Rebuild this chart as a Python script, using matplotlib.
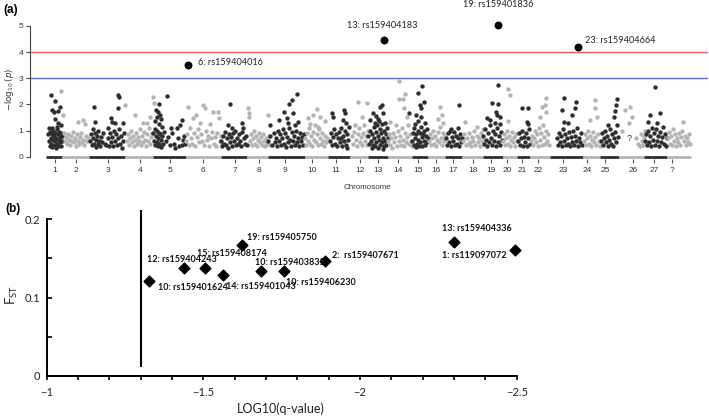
import matplotlib
matplotlib.use("Agg")
import matplotlib.pyplot as plt
from matplotlib.ticker import MultipleLocator, FixedLocator

# ---------------- Panel (a): Manhattan plot data ----------------
# cumulative genomic position (arbitrary units) and -log10(p)
chrom_labels = ["1", "2", "3", "4", "5", "6", "7", "8", "9", "10", "11", "12", "13", "14",
                "15", "16", "17", "18", "19", "20", "21", "22", "23", "24", "25", "26", "27", "?"]
chrom_centers = [55, 76, 108, 140, 170, 203, 235, 259, 285, 312, 336, 360, 378, 398,
                 418, 436, 453, 473, 491, 507, 522, 538, 563, 587, 605, 633, 654, 672]
chrom_start = [46, 62, 89, 125, 153, 186, 221, 247, 268, 305, 328, 350, 368, 388,
               412, 428, 445, 462, 483, 503, 517, 530, 550, 583, 600, 619, 644, 667]
chrom_end = [62, 89, 125, 153, 186, 221, 247, 268, 305, 328, 350, 368, 388, 412,
             428, 445, 462, 483, 503, 517, 530, 550, 583, 600, 619, 644, 667, 691]

chr01 = [(51, 2.36), (55, 2.14), (51.5, 1.79), (54, 1.72), (58, 1.73), (60, 1.91), (58, 1.28), (55, 1.45),
         (49, 1.1), (61, 1.2), (48, 0.85), (49, 0.6), (49.5, 0.4), (50, 0.95), (50.5, 0.7), (51, 0.5),
         (51.5, 0.85), (52, 0.38), (52.5, 0.65), (53, 1.0), (53.5, 0.8), (54, 0.45), (54.5, 0.6), (55, 0.9),
         (55.5, 0.35), (56, 0.7), (56.5, 1.05), (57, 0.5), (57.5, 0.85), (58, 0.4), (58.5, 0.65), (59, 0.95),
         (59.5, 0.55), (60, 0.75), (60.5, 0.42), (61, 0.9), (61.5, 0.6), (62, 0.8), (52, 1.1), (57, 1.12)]
chr02 = [(61, 2.52), (63, 1.6), (78, 1.34), (83, 1.42), (85, 1.25), (64, 0.9), (65, 0.6), (66, 0.75), (67, 0.5),
         (68, 0.85), (69, 0.65), (70, 0.45), (71, 0.8), (72, 0.6), (73, 0.95), (74, 0.55), (75, 0.7), (76, 0.4),
         (77, 0.85), (78, 0.6), (79, 0.5), (80, 0.75), (81, 0.9), (82, 0.55), (83, 0.65), (84, 0.45), (86, 0.8),
         (87, 0.6), (88, 0.7)]
chr03 = [(94, 1.91), (117.5, 2.36), (119, 2.27), (118, 1.85), (111, 1.47), (111.5, 1.34), (115, 1.28), (95, 1.34),
         (123, 1.28), (108, 1.09), (90, 0.6), (91, 0.85), (92, 0.45), (92.5, 1.05), (93, 0.7), (94, 0.5), (95, 0.9),
         (95.5, 0.38), (96, 0.65), (97, 0.8), (97.5, 0.5), (98, 1.0), (99, 0.6), (100, 0.42), (101, 0.75),
         (102, 0.55), (103, 0.9), (105, 0.5), (106, 0.45), (108, 0.7), (109, 0.4), (110, 0.9), (111, 0.55),
         (112, 0.75), (113, 0.4), (114, 1.0), (115, 0.6), (116, 0.85), (117, 0.45), (118, 0.7), (119, 1.05),
         (120, 0.5), (121, 0.8), (122, 0.35), (123, 0.6), (124, 0.9)]
chr04 = [(125, 1.98), (135, 1.6), (143, 1.28), (147, 1.3), (153, 2.29), (153.5, 2.05), (150, 1.5), (127, 0.6),
         (128, 0.85), (129, 0.45), (130, 0.7), (131, 1.0), (132, 0.55), (133, 0.8), (134, 0.4), (135, 0.65),
         (136, 0.9), (137, 0.5), (138, 0.75), (139, 0.6), (140, 1.05), (141, 0.45), (142, 0.8), (143, 0.55),
         (144, 0.95), (145, 0.65), (146, 0.4), (147, 0.85), (148, 0.6), (149, 1.1), (150, 0.5), (151, 0.75),
         (152, 0.9)]
chr05 = [(167, 2.33), (159, 2.0), (156, 1.79), (158, 1.7), (160, 1.6), (157, 1.5), (161, 1.45), (155, 1.35),
         (159, 1.25), (162, 1.15), (181.5, 1.4), (180, 1.21), (176.5, 1.09), (168, 0.77), (183, 0.64), (153, 0.9),
         (154, 0.6), (154.5, 1.05), (155, 0.45), (156, 0.8), (156.5, 0.55), (157, 1.0), (157.5, 0.4), (158, 0.7),
         (158.5, 0.9), (159, 0.5), (160, 0.85), (160.5, 0.38), (161, 0.65), (162, 0.8), (163, 0.5), (164, 0.95),
         (166, 0.6), (170, 0.45), (172, 0.9), (174, 0.5), (175, 0.35), (178, 0.7), (179, 0.4), (182, 0.45),
         (184, 0.8), (185, 0.5), (171, 1.1)]
chr06 = [(188, 1.91), (193, 1.47), (196, 1.6), (203, 1.98), (205, 1.85), (213, 1.72), (218, 1.72), (219, 1.47),
         (200, 1.3), (210, 1.25), (186, 0.6), (187, 0.85), (189, 0.45), (190, 1.1), (191, 0.7), (192, 0.5),
         (194, 0.9), (195, 0.4), (197, 0.75), (198, 1.05), (199, 0.55), (201, 0.85), (202, 0.6), (204, 0.45),
         (206, 1.0), (207, 0.65), (208, 0.8), (209, 0.4), (211, 0.7), (212, 0.95), (214, 0.5), (215, 0.75),
         (216, 0.4), (217, 0.9), (220, 0.6), (221, 0.8), (222, 0.5)]
chr07 = [(230, 2.0), (228, 1.21), (231.5, 1.09), (241.5, 1.28), (243, 1.09), (221, 0.6), (222, 0.4), (223, 0.8),
         (224, 0.5), (225, 0.95), (226, 0.45), (227, 0.7), (228, 0.35), (229, 0.85), (230, 0.55), (231, 0.75),
         (232, 0.4), (233, 0.9), (234, 0.6), (235, 1.0), (236, 0.45), (237, 0.7), (238, 0.5), (239, 0.85),
         (240, 0.6), (241, 0.4), (242, 0.95), (244, 0.7), (245, 0.5), (246, 0.8), (247, 0.45)]
chr08 = [(248, 1.85), (248.5, 1.67), (249, 1.5), (268, 1.6), (250, 0.6), (251, 0.85), (252, 0.45), (253, 0.7),
         (254, 1.0), (255, 0.5), (256, 0.8), (257, 0.4), (258, 0.65), (259, 0.9), (260, 0.55), (261, 0.75),
         (262, 0.45), (263, 0.85), (264, 0.6), (265, 0.4), (266, 0.7), (267, 0.5), (269, 0.8), (270, 0.45)]
chr09 = [(296.5, 2.39), (289, 2.0), (291.5, 2.17), (284, 1.72), (293, 1.66), (286.5, 1.47), (279, 1.4),
         (270, 1.21), (298, 1.34), (288, 1.3), (295, 1.2), (268, 0.6), (270, 0.8), (272, 0.45), (274, 0.9),
         (275, 0.55), (276, 0.7), (277, 0.4), (278, 1.0), (279, 0.6), (280, 0.85), (281, 0.45), (282, 0.7),
         (283, 1.05), (284, 0.5), (285, 0.9), (286, 0.38), (287, 0.75), (288, 0.55), (289, 1.1), (290, 0.65),
         (291, 0.42), (292, 0.95), (293, 0.6), (294, 0.8), (295, 0.45), (296, 1.0), (297, 0.55), (298, 0.7),
         (299, 0.4), (300, 0.9), (301, 0.6), (302, 0.75), (303, 0.45), (304, 0.85)]
chr10 = [(316.5, 1.81), (313, 1.6), (308, 1.47), (320, 1.5), (325, 1.35), (305, 0.7), (306, 0.45), (307, 0.9),
         (308, 0.6), (309, 1.1), (310, 0.5), (311, 0.8), (312, 0.4), (313, 0.95), (314, 0.65), (315, 1.2),
         (316, 0.55), (317, 0.85), (318, 0.45), (319, 1.05), (320, 0.7), (321, 0.5), (322, 0.9), (323, 0.6),
         (324, 0.4), (325, 0.8), (326, 0.55), (327, 0.7), (310, 1.25), (318, 1.15)]
chr11 = [(332, 1.66), (333, 1.53), (344, 1.79), (344.5, 1.66), (343, 1.4), (346, 1.3), (330, 0.6), (331, 0.9),
         (332, 0.45), (333, 0.75), (334, 1.05), (335, 0.5), (336, 0.85), (337, 0.4), (338, 0.7), (339, 0.95),
         (340, 0.55), (341, 1.1), (342, 0.4), (343, 0.8), (344, 0.6), (345, 1.0), (346, 0.45), (347, 0.85),
         (348, 0.65), (349, 1.15), (341, 0.7), (347, 0.35)]
chr12 = [(358, 2.1), (366.5, 2.04), (362, 1.5), (355, 1.2), (352, 0.8), (353, 0.5), (354, 0.95), (356, 0.65),
         (357, 0.4), (358, 0.85), (359, 1.1), (360, 0.55), (361, 0.75), (362, 0.45), (363, 0.9), (364, 1.2),
         (365, 0.6), (366, 0.8), (367, 0.45), (368, 1.0)]
chr13 = [(381.5, 1.98), (380, 1.91), (373, 1.66), (383, 1.66), (376, 1.55), (378, 1.45), (370, 1.4), (385, 1.3),
         (368, 0.8), (369, 0.5), (370, 1.0), (371, 0.6), (371.5, 0.35), (372, 0.85), (373, 0.45), (373.5, 1.15),
         (374, 0.7), (375, 0.4), (375.5, 0.95), (376, 0.55), (377, 1.2), (377.5, 0.8), (378, 0.35), (379, 0.65),
         (379.5, 1.05), (380, 0.45), (381, 0.9), (381.5, 0.55), (382, 1.25), (383, 0.7), (383.5, 0.4), (384, 1.0),
         (385, 0.6), (385.5, 0.85), (386, 0.45), (387, 1.1), (387.5, 0.7), (374.5, 1.3), (379, 1.35), (382.5, 0.3)]
chr14 = [(399, 2.91), (405, 2.4), (399, 2.2), (402.5, 2.2), (404, 1.85), (390, 1.34), (407, 1.5), (396, 1.2),
         (388, 0.6), (389, 0.85), (390, 0.45), (391, 0.7), (392, 0.35), (393, 0.9), (394, 0.55), (395, 0.75),
         (397, 0.4), (398, 1.0), (399, 0.6), (400, 0.8), (401, 0.45), (402, 1.1), (403, 0.65), (404, 0.4),
         (405, 0.9), (406, 0.55), (407, 0.75), (408, 1.2), (409, 0.5), (410, 0.85), (411, 0.6), (412, 0.4)]
chr15 = [(422, 2.7), (417.5, 2.42), (424, 2.1), (420, 1.98), (420.5, 1.85), (409, 1.66), (416, 1.6), (421, 1.5),
         (418, 1.35), (425, 1.3), (412, 0.6), (413, 0.9), (413.5, 0.45), (414, 1.1), (415, 0.7), (415.5, 0.38),
         (416, 0.85), (417, 0.5), (417.5, 1.0), (418, 0.65), (419, 0.4), (419.5, 0.9), (420, 0.55), (421, 1.15),
         (421.5, 0.75), (422, 0.4), (423, 0.85), (423.5, 0.6), (424, 1.0), (425, 0.45), (426, 0.8), (427, 0.55),
         (428, 0.7), (414.5, 1.25), (426.5, 1.05)]
chr16 = [(440, 1.91), (441.5, 1.6), (438, 1.45), (443, 1.3), (429, 0.6), (430, 0.85), (431, 0.45), (432, 0.7),
         (433, 1.0), (434, 0.5), (435, 0.8), (436, 0.4), (437, 0.65), (438, 0.95), (439, 0.55), (440, 1.15),
         (441, 0.7), (442, 0.45), (443, 0.9), (444, 0.6), (445, 0.8)]
chr17 = [(459, 1.98), (458, 1.09), (446, 0.7), (447, 0.45), (448, 0.9), (449, 0.55), (450, 1.0), (451, 0.4),
         (452, 0.75), (453, 0.6), (454, 0.95), (455, 0.45), (456, 0.8), (457, 0.5), (458, 0.7), (459, 0.4),
         (460, 0.85), (461, 0.55), (462, 0.7), (451, 1.05)]
chr18 = [(465, 1.34), (476.5, 1.15), (463, 0.6), (464, 0.85), (466, 0.45), (467, 0.7), (468, 0.5), (469, 0.9),
         (470, 0.55), (471, 0.4), (472, 0.75), (473, 0.6), (474, 1.0), (475, 0.45), (477, 0.8), (478, 0.55),
         (479, 0.7), (480, 0.4), (481, 0.9), (482, 0.6), (483, 1.05)]
chr19 = [(498, 2.74), (492, 2.07), (498, 2.0), (496, 1.7), (486.5, 1.47), (497, 1.6), (490, 1.4), (500, 1.5),
         (483, 0.8), (484, 0.5), (485, 1.05), (486, 0.65), (487, 0.4), (488, 0.9), (489, 0.55), (490, 1.2),
         (491, 0.7), (492, 0.45), (493, 1.0), (494, 0.6), (495, 0.85), (496, 0.4), (497, 1.1), (498, 0.55),
         (499, 0.8), (500, 0.45), (501, 0.95), (502, 0.65), (494.5, 1.3), (499.5, 1.25)]
chr20 = [(508, 2.58), (510, 2.36), (507.5, 1.37), (503, 0.6), (504, 0.85), (505, 0.45), (506, 0.7), (507, 1.0),
         (508, 0.5), (509, 0.8), (510, 0.4), (511, 0.65), (512, 0.95), (513, 0.55), (514, 0.75), (515, 0.4),
         (516, 0.85), (517, 0.6)]
chr21 = [(522, 1.85), (527.5, 1.85), (526.5, 1.34), (528, 1.25), (518, 0.6), (519, 0.9), (520, 0.45), (521, 0.7),
         (522, 1.0), (523, 0.4), (524, 0.75), (525, 0.55), (526, 0.9), (527, 0.4), (528, 0.7), (529, 1.05),
         (530, 0.5)]
chr22 = [(545.5, 2.26), (545, 1.98), (542, 1.9), (546, 1.7), (540, 1.5), (531, 0.6), (532, 0.8), (533, 0.45),
         (534, 0.7), (535, 1.0), (536, 0.55), (537, 0.85), (538, 0.4), (539, 1.1), (540, 0.65), (541, 0.9),
         (542, 0.45), (543, 1.2), (544, 0.75), (545, 0.5), (546, 1.0), (547, 0.6), (548, 0.85), (549, 0.45)]
chr23 = [(564, 2.23), (562, 1.79), (575.5, 2.1), (575, 1.85), (572, 1.6), (564, 1.34), (568, 1.3), (557, 0.7),
         (558, 0.45), (559, 0.9), (560, 0.55), (561, 0.8), (562, 0.4), (563, 1.05), (564, 0.6), (565, 0.85),
         (566, 0.45), (567, 0.7), (568, 0.5), (569, 0.95), (570, 0.4), (571, 0.75), (572, 0.55), (573, 1.0),
         (574, 0.45), (575, 0.8), (576, 0.6), (577, 1.1), (578, 0.4), (579, 0.7), (580, 0.55), (581, 0.9),
         (582, 0.45)]
chr24 = [(595, 2.17), (594.5, 1.85), (590, 1.4), (597, 1.5), (584, 0.6), (585, 0.85), (586, 0.45), (587, 0.7),
         (588, 1.0), (589, 0.5), (590, 0.8), (591, 0.4), (592, 0.65), (593, 0.95), (594, 0.55), (595, 0.75),
         (596, 0.45), (598, 0.85), (599, 0.6), (600, 0.4)]
chr25 = [(616.5, 2.19), (615.5, 1.98), (615, 1.75), (614, 1.5), (608, 1.21), (601, 0.6), (602, 0.9), (603, 0.45),
         (604, 0.7), (605, 1.0), (606, 0.55), (607, 0.8), (608, 0.4), (609, 0.65), (610, 1.05), (611, 0.5),
         (612, 0.85), (613, 0.4), (614, 0.7), (615, 0.95), (616, 0.55), (617, 1.2), (618, 0.75)]
chr26 = [(625, 1.79), (630, 1.91), (631.5, 1.53), (629, 1.3), (622, 1.0), (636, 0.7), (638, 0.5), (641, 0.85),
         (642, 0.6), (643, 0.45), (644, 0.75), (645, 1.0), (646, 0.55), (647, 0.9), (640, 0.4)]
chr27 = [(655, 2.65), (650, 1.6), (660, 1.66), (648, 1.34), (657, 1.3), (645, 0.6), (646, 0.85), (647, 0.45),
         (648, 1.0), (649, 0.55), (650, 0.8), (651, 0.4), (652, 1.1), (653, 0.65), (654, 0.9), (655, 0.45),
         (656, 1.05), (657, 0.6), (658, 0.8), (659, 0.4), (660, 0.95), (661, 0.55), (662, 0.75), (663, 1.15),
         (664, 0.5), (665, 0.85), (666, 0.4), (667, 0.7)]
chrUn = [(683, 1.34), (668, 0.7), (669, 0.95), (670, 0.5), (671, 0.8), (672, 0.45), (673, 1.05), (674, 0.6),
         (675, 0.85), (676, 0.4), (677, 0.7), (678, 0.55), (679, 0.9), (680, 0.45), (681, 0.75), (682, 1.0),
         (684, 0.6), (685, 0.8), (686, 0.45), (687, 0.7), (688, 0.55), (689, 0.85), (690, 0.5)]
snps_by_chrom = [chr01, chr02, chr03, chr04, chr05, chr06, chr07, chr08, chr09, chr10, chr11, chr12, chr13,
                 chr14, chr15, chr16, chr17, chr18, chr19, chr20, chr21, chr22, chr23, chr24, chr25, chr26,
                 chr27, chrUn]

top_hits_pos = [188.3, 384.3, 498, 578]
top_hits_logp = [3.5, 4.48, 5.04, 4.2]
top_hits_labels = ["6: rs159404016", "13: rs159404183", "19: rs159401836", "23: rs159404664"]
sig_threshold = 4
sugg_threshold = 3

# ---------------- Panel (b): FST vs log10(q) ----------------
fst_log10q = [-1.328, -1.438, -1.504, -1.564, -1.623, -1.683, -1.756, -1.888, -2.30, -2.495]
fst_values = [0.121, 0.137, 0.138, 0.129, 0.167, 0.134, 0.134, 0.1465, 0.171, 0.1605]
fst_labels = ["10: rs159401624", "12: rs159404243", "15: rs159408174", "14: rs159401043",
              "19: rs159405750", "10: rs159403835", "10: rs159406230", "2:  rs159407671",
              "13: rs159404336", "1: rs119097072"]
q_threshold = -1.301  # log10(0.05)

# ---------------- Figure ----------------
W, H = 709, 416
fig = plt.figure(figsize=(W / 100, H / 100), dpi=100)

def fx(px):
    return px / W

def fy(py):
    return 1 - py / H

DARK = "#2e2e2e"
LIGHT = "#b4b4b4"

# Panel (a)
y0px, upx = 156.7, 26.14
ax_bot_px = 158.5
axa = fig.add_axes([fx(30), fy(ax_bot_px), fx(708) - fx(30), ax_bot_px / H])
axa.set_xlim(30, 708)
axa.set_ylim(-(ax_bot_px - y0px) / upx, y0px / upx)

for i, pts in enumerate(snps_by_chrom):
    col = DARK if i % 2 == 0 else LIGHT
    xs = [p[0] for p in pts]
    ys = [p[1] for p in pts]
    axa.scatter(xs, ys, s=10, color=col, linewidths=0, zorder=2)
    axa.hlines(0, chrom_start[i], chrom_end[i], color=col, lw=2.0, zorder=1)

axa.axhline(sig_threshold, color="#e06060", lw=1.0, zorder=1)
axa.axhline(sugg_threshold, color="#5a6ad8", lw=1.0, zorder=1)

axa.scatter(top_hits_pos, top_hits_logp, s=22, color="black", zorder=3, clip_on=False)
offsets_a = [(10, 2.7, "left"), (-2, 13.6, "center"), (0.5, 20.7, "center"), (7.3, 6, "left")]
for x, y, lab, (dx, dy, ha) in zip(top_hits_pos, top_hits_logp, top_hits_labels, offsets_a):
    axa.annotate(lab, (x, y), xytext=(dx, dy), textcoords="offset pixels", ha=ha, va="center",
                 fontsize=6.6, family="Lato", color="#222222", annotation_clip=False)

axa.text(629, 0.70, "?", fontsize=6.5, family="Liberation Sans", color="#333333", ha="center", va="center")

for s in ["top", "right", "bottom"]:
    axa.spines[s].set_visible(False)
axa.spines["left"].set_bounds(0, 5)
axa.spines["left"].set_color("#444444")
axa.spines["left"].set_linewidth(0.8)
axa.set_yticks([0, 1, 2, 3, 4, 5])
axa.set_xticks(chrom_centers)
axa.set_xticklabels(chrom_labels)
axa.tick_params(axis="y", length=3, width=0.8, color="#444444", labelsize=6, labelcolor="#333333", pad=2)
axa.tick_params(axis="x", length=3, width=0.8, color="#555555", labelsize=6, labelcolor="#333333", pad=3)
for t in axa.get_xticklabels() + axa.get_yticklabels():
    t.set_family("Liberation Sans")

fig.text(fx(368), fy(187), "Chromosome", fontsize=5.8, family="Liberation Sans", color="#333333",
         ha="center", va="center")
fig.text(fx(10), fy(89), r"$-\log_{10}(p)$", fontsize=6.2, color="#333333", rotation=90,
         ha="center", va="center")
fig.text(fx(11), fy(9.5), "(a)", fontsize=8.5, fontweight="bold", family="Liberation Sans",
         ha="center", va="center")
fig.text(fx(13), fy(209), "(b)", fontsize=8.5, fontweight="bold", family="Liberation Sans",
         ha="center", va="center")

# Panel (b)
axb = fig.add_axes([fx(46.7), fy(376), fx(516.7) - fx(46.7), (376 - 219) / H])
axb.set_xlim(-1, -2.5)
axb.set_ylim(0, 0.2)
for s in ["top", "right"]:
    axb.spines[s].set_visible(False)
for s in ["left", "bottom"]:
    axb.spines[s].set_linewidth(1.4)
    axb.spines[s].set_color("black")

axb.vlines(q_threshold, 0.012, 0.211, color="black", lw=1.5, clip_on=False)
axb.scatter(fst_log10q, fst_values, marker="D", s=30, color="black", zorder=3, clip_on=False)

offsets_b = [(43.3, -6), (-2, 9), (27, 14.4), (37.6, -12), (40, 7.7), (29.3, 8), (36.8, -11.3),
             (40, 5.3), (23, 13), (-40.7, -5.7)]
for x, y, lab, (dx, dy) in zip(fst_log10q, fst_values, fst_labels, offsets_b):
    axb.annotate(lab, (x, y), xytext=(dx, dy), textcoords="offset pixels", ha="center", va="center",
                 fontsize=6.5, fontweight="bold", family="Lato", color="#111111", annotation_clip=False)

axb.set_xticks([-1, -1.5, -2, -2.5])
axb.set_xticklabels(["\u22121", "\u22121.5", "\u22122", "\u22122.5"])
axb.xaxis.set_minor_locator(MultipleLocator(0.1))
axb.set_yticks([0, 0.1, 0.2])
axb.set_yticklabels(["0", "0.1", "0.2"])
axb.yaxis.set_minor_locator(FixedLocator([0.05, 0.15]))
axb.tick_params(axis="x", which="both", direction="out", length=3, width=1.2, labelsize=8, pad=5)
axb.tick_params(axis="y", which="both", direction="in", length=3.5, width=1.2, labelsize=8, pad=4.5)
for t in axb.get_xticklabels() + axb.get_yticklabels():
    t.set_family("Lato")
    t.set_color("#222222")

fig.text(fx(281), fy(409), "LOG10(q-value)", fontsize=9, family="Lato", color="#222222",
         ha="center", va="center")
fig.text(fx(12), fy(295), r"$\mathregular{F_{ST}}$", fontsize=9.5, family="Lato", color="#222222",
         rotation=90, ha="center", va="center")

fig.savefig("out.png", dpi=100)
